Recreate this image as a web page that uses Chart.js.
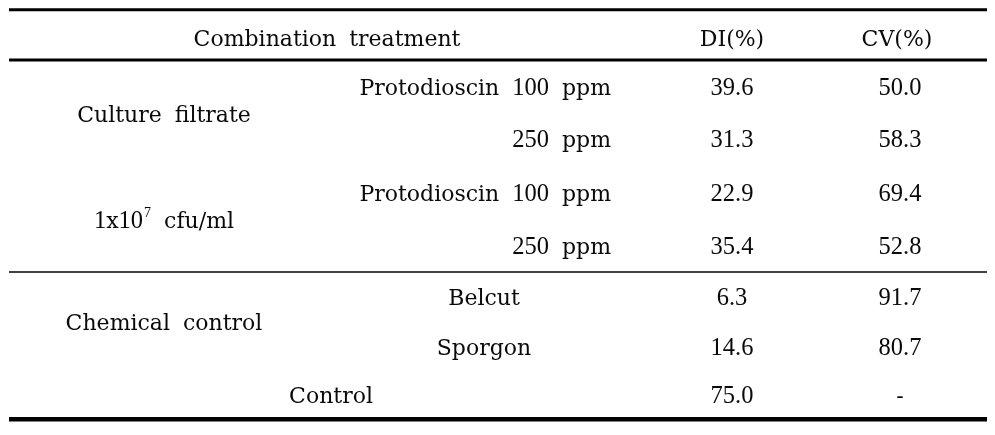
<!DOCTYPE html>
<html><head><meta charset="utf-8">
<script src="https://cdn.jsdelivr.net/npm/chart.js@4.4.1/dist/chart.umd.min.js"></script>
<style>html,body{margin:0;padding:0;background:#fff;}#wrap{width:995px;height:435px;}</style>
</head><body><div id="wrap"><canvas id="c" width="995" height="435"></canvas></div>
<script>
// ---- data ----
const headers = ['Combination treatment', 'DI(%)', 'CV(%)'];
const groups = ['Culture filtrate', '1x10^7 cfu/ml', 'Chemical control'];
const treatments = ['Protodioscin 100 ppm', '250 ppm', 'Protodioscin 100 ppm', '250 ppm', 'Belcut', 'Sporgon', 'Control'];
const diValues = [39.6, 31.3, 22.9, 35.4, 6.3, 14.6, 75.0];
const cvValues = [50.0, 58.3, 69.4, 52.8, 91.7, 80.7, null];

// ---- layout (scale units = px) ----
const rowBase = [95, 147, 201, 254, 305, 355, 403];
const groupBase = [122, 228, 330];
const headerBase = 46;
const col = {head: 327, group: 164, treatRight: 611, chem: 484, control: 331, di: 732, cv: 900, cvHead: 897};
const treatAlign = ['right','right','right','right','center','center','center'];
const treatX = [col.treatRight, col.treatRight, col.treatRight, col.treatRight, col.chem, col.chem, col.control];
const rules = [{y: 9.7, w: 3}, {y: 60, w: 3}, {y: 272, w: 1.5}, {y: 419.2, w: 4.5}];
const ruleX = [9, 987];
const TXT_FONT = '22px "DejaVu Serif", serif';
const NUM_FONT = '24.5px "Liberation Serif", serif';
const SUP_FONT = '14px "Liberation Serif", serif';
const SPACE_W = 13;

function tokens(text) {
  const out = [];
  let i = 0;
  const cls = c => /\s/.test(c) ? 'sp' : (/[0-9.]/.test(c) ? 'num' : 'txt');
  while (i < text.length) {
    const ch = text[i];
    if (ch === '^') {
      let j = i + 1; while (j < text.length && !/\s/.test(text[j])) j++;
      out.push({k: 'sup', s: text.slice(i + 1, j)}); i = j; continue;
    }
    const k = cls(ch);
    let j = i + 1;
    while (j < text.length && text[j] !== '^' && cls(text[j]) === k) j++;
    out.push({k, s: text.slice(i, j)}); i = j;
  }
  return out;
}
function fontFor(k) { return k === 'num' ? NUM_FONT : (k === 'sup' ? SUP_FONT : TXT_FONT); }
function drawMixed(ctx, text, x, y, align) {
  const toks = tokens(text);
  let total = 0;
  toks.forEach(t => {
    if (t.k === 'sp') t.w = SPACE_W * t.s.length;
    else { ctx.font = fontFor(t.k); t.w = ctx.measureText(t.s).width + (t.k === 'sup' ? 1 : 0); }
    total += t.w;
  });
  let sx = align === 'center' ? x - total / 2 : (align === 'right' ? x - total : x);
  ctx.textAlign = 'left';
  toks.forEach(t => {
    if (t.k !== 'sp') {
      ctx.font = fontFor(t.k);
      ctx.fillText(t.s, sx + (t.k === 'sup' ? 1 : 0), t.k === 'sup' ? y - 11 : y);
    }
    sx += t.w;
  });
}

const tablePlugin = {
  id: 'table',
  afterDraw(chart) {
    const ctx = chart.ctx, xs = chart.scales.x, ys = chart.scales.y;
    const X = v => xs.getPixelForValue(v), Y = v => ys.getPixelForValue(v);
    ctx.save();
    ctx.fillStyle = '#0a0a0a';
    ctx.strokeStyle = '#000';
    rules.forEach(r => {
      ctx.lineWidth = r.w;
      ctx.beginPath(); ctx.moveTo(X(ruleX[0]), Y(r.y)); ctx.lineTo(X(ruleX[1]), Y(r.y)); ctx.stroke();
    });
    ctx.textBaseline = 'alphabetic';
    drawMixed(ctx, headers[0], X(col.head), Y(headerBase), 'center');
    drawMixed(ctx, headers[1], X(col.di), Y(headerBase), 'center');
    drawMixed(ctx, headers[2], X(col.cvHead), Y(headerBase), 'center');
    groups.forEach((g, i) => drawMixed(ctx, g, X(col.group), Y(groupBase[i]), 'center'));
    treatments.forEach((t, i) => drawMixed(ctx, t, X(treatX[i]), Y(rowBase[i]), treatAlign[i]));
    diValues.forEach((v, i) => drawMixed(ctx, v.toFixed(1), X(col.di), Y(rowBase[i]), 'center'));
    cvValues.forEach((v, i) => drawMixed(ctx, v == null ? '-' : v.toFixed(1), X(col.cv), Y(rowBase[i]), 'center'));
    ctx.restore();
  }
};

new Chart(document.getElementById('c'), {
  type: 'scatter',
  data: { datasets: [] },
  options: {
    responsive: false, animation: false, devicePixelRatio: 1,
    layout: { padding: 0 },
    plugins: { legend: { display: false }, tooltip: { enabled: false } },
    scales: {
      x: { type: 'linear', min: 0, max: 995, display: false },
      y: { type: 'linear', min: 0, max: 435, reverse: true, display: false }
    }
  },
  plugins: [tablePlugin]
});
</script></body></html>
